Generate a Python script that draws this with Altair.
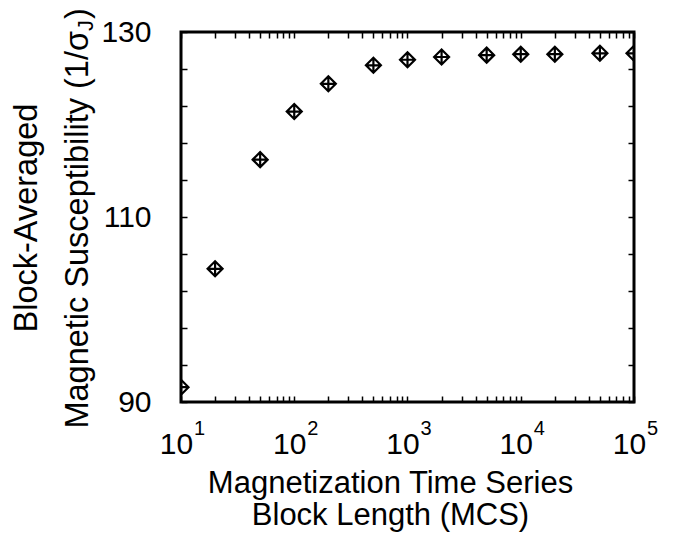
import altair as alt
import pandas as pd

# ---- data ----
block_length = [10, 20, 50, 100, 200, 500, 1000, 2000, 5000, 10000, 20000, 50000, 100000]
susceptibility = [91.6, 104.4, 116.2, 121.4, 124.4, 126.4, 127.0, 127.3, 127.5, 127.6, 127.6, 127.7, 127.7]

x_tick_values = [10, 20, 30, 40, 50, 60, 70, 80, 90,
                 100, 200, 300, 400, 500, 600, 700, 800, 900,
                 1000, 2000, 3000, 4000, 5000, 6000, 7000, 8000, 9000,
                 10000, 20000, 30000, 40000, 50000, 60000, 70000, 80000, 90000,
                 100000]
x_major = [10, 100, 1000, 10000, 100000]
x_exponents = ["1", "2", "3", "4", "5"]
y_tick_values = [90, 94, 98, 102, 106, 110, 114, 118, 122, 126, 130]
y_labelled = [90, 110, 130]

x_title = ["Magnetization Time Series", "Block Length (MCS)"]
y_title_line1 = "Block-Averaged"
y_title_line2 = "Magnetic Susceptibility (1/σ"
y_title_sub = "J"
y_title_close = ")"

FONT = "Liberation Sans"
W, H = 453, 370
T = 6  # tick length

df = pd.DataFrame({"block": block_length, "chi": susceptibility})

xscale = alt.Scale(type="log", domain=[10, 100000], nice=False)
yscale = alt.Scale(domain=[90, 130], nice=False, zero=False)

marker = "M-1,0L0,-1L1,0L0,1ZM-1,0L1,0M0,-1L0,1"

common_axis = dict(domain=False, grid=False, tickColor="black", tickWidth=1.5,
                   tickSize=T, offset=-T, labelFont=FONT, labelFontSize=30,
                   labelColor="black", titleFont=FONT, titleColor="black")

major_expr = "indexof(" + str(x_major) + ", datum.value) >= 0 ? '10' : ''"
ylab_expr = "indexof(" + str(y_labelled) + ", datum.value) >= 0 ? datum.label : ''"

points = alt.Chart(df).mark_point(
    shape=marker, size=225, filled=False, color="black", strokeWidth=2.2,
    opacity=1, clip=True
).encode(
    x=alt.X("block:Q", scale=xscale,
            axis=alt.Axis(orient="bottom", values=x_tick_values, labelExpr=major_expr,
                          labelPadding=27, labelOffset=-5, labelFlush=False, labelOverlap=False,
                          title=x_title, titleFontSize=31, titleFontWeight="normal",
                          titleX=209, titleY=72, titleBaseline="top", titleLineHeight=32,
                          **common_axis)),
    y=alt.Y("chi:Q", scale=yscale,
            axis=alt.Axis(orient="left", values=y_tick_values, labelExpr=ylab_expr,
                          labelPadding=30, labelFlush=False, labelOverlap=False,
                          title=None, **common_axis)),
)

mirror = alt.Chart(df).mark_point(opacity=0).encode(
    x=alt.X("block:Q", scale=xscale,
            axis=alt.Axis(orient="top", values=x_tick_values, labels=False, title=None,
                          **common_axis)),
    y=alt.Y("chi:Q", scale=yscale,
            axis=alt.Axis(orient="right", values=y_tick_values, labels=False, title=None,
                          **common_axis)),
)

exp_df = pd.DataFrame({"pos": x_major, "e": x_exponents})
exps = alt.Chart(exp_df).mark_text(
    font=FONT, fontSize=20, color="black", align="left", baseline="top", dx=13
).encode(
    x=alt.X("pos:Q", scale=xscale, axis=None),
    y=alt.value(H + 17),
    text="e:N",
)

t1 = alt.Chart(pd.DataFrame({"t": [y_title_line1]})).mark_text(
    font=FONT, fontSize=32.5, color="black", angle=270, align="center", baseline="alphabetic"
).encode(x=alt.value(-144), y=alt.value(186), text="t:N")

t2 = alt.Chart(pd.DataFrame({"t": [y_title_line2]})).mark_text(
    font=FONT, fontSize=32.5, color="black", angle=270, align="right", baseline="alphabetic"
).encode(x=alt.value(-93), y=alt.value(-1), text="t:N")

t3 = alt.Chart(pd.DataFrame({"t": [y_title_sub]})).mark_text(
    font=FONT, fontSize=22, color="black", angle=270, align="left", baseline="alphabetic"
).encode(x=alt.value(-88), y=alt.value(-1), text="t:N")

t4 = alt.Chart(pd.DataFrame({"t": [y_title_close]})).mark_text(
    font=FONT, fontSize=32.5, color="black", angle=270, align="left", baseline="alphabetic"
).encode(x=alt.value(-93), y=alt.value(-13), text="t:N")

chart = alt.layer(points, mirror, exps, t1, t2, t3, t4).resolve_scale(
    x="independent", y="independent"
).properties(
    width=W, height=H,
    padding={"left": 173, "top": 24, "right": 40, "bottom": 132},
    autosize=alt.AutoSizeParams(type="none"),
).configure(
    background="white",
    view=alt.ViewConfig(stroke="black", strokeWidth=3),
)

chart.save("out.html", embed_options={"renderer": "svg", "actions": False})
